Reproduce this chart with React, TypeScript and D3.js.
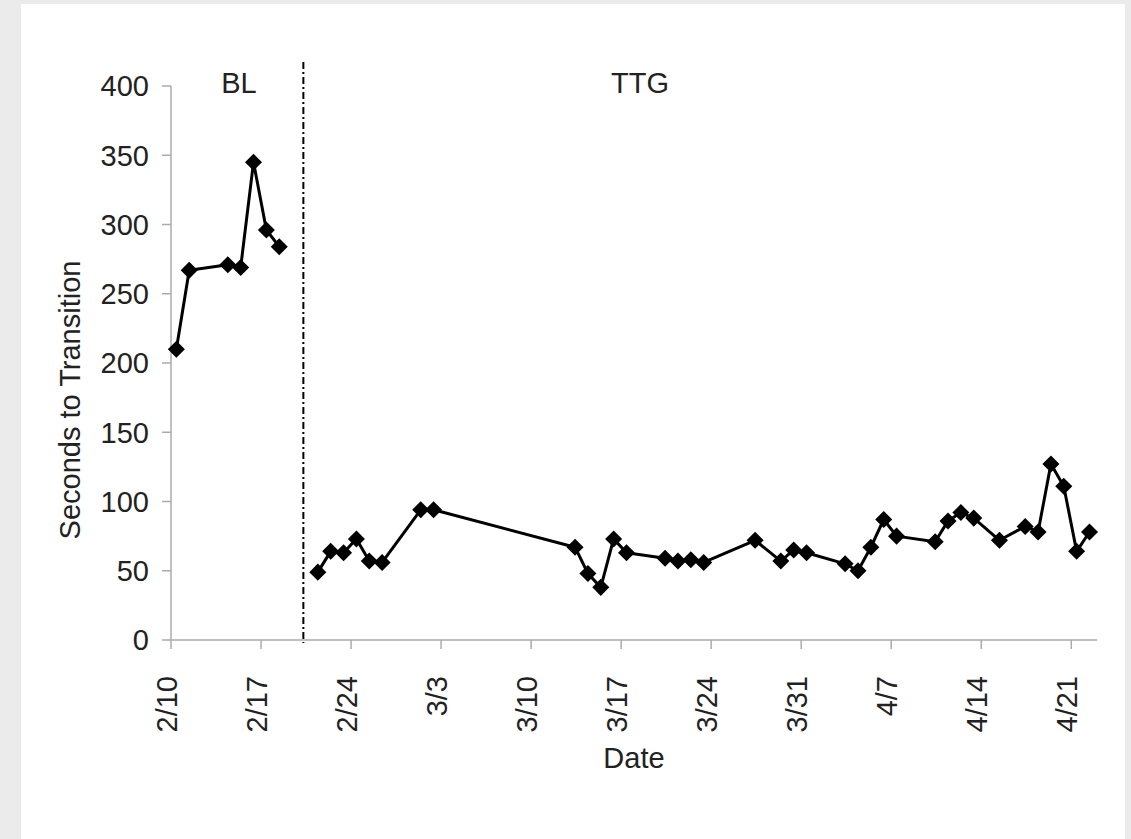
import { useMemo } from "react";
import * as d3 from "d3";

const YEAR = 2017;

// baseline phase
const blDates = ["2/10", "2/11", "2/14", "2/15", "2/16", "2/17", "2/18"];
const blValues = [210, 267, 271, 269, 345, 296, 284];

// treatment phase
const ttgDates = [
  "2/21", "2/22", "2/23", "2/24", "2/25", "2/26", "3/1", "3/2",
  "3/13", "3/14", "3/15", "3/16", "3/17", "3/20", "3/21", "3/22", "3/23",
  "3/27", "3/29", "3/30", "3/31", "4/3", "4/4", "4/5", "4/6", "4/7",
  "4/10", "4/11", "4/12", "4/13", "4/15", "4/17", "4/18", "4/19", "4/20",
  "4/21", "4/22",
];
const ttgValues = [
  49, 64, 63, 73, 57, 56, 94, 94,
  67, 48, 38, 73, 63, 59, 57, 58, 56,
  72, 57, 65, 63, 55, 50, 67, 87, 75,
  71, 86, 92, 88, 72, 82, 78, 127, 111,
  64, 78,
];

const xTickLabels = ["2/10", "2/17", "2/24", "3/3", "3/10", "3/17", "3/24", "3/31", "4/7", "4/14", "4/21"];
const yTicks = [0, 50, 100, 150, 200, 250, 300, 350, 400];
const phaseLabels = ["BL", "TTG"];
const phaseChange = "2/20";

const W = 1131;
const H = 839;
const FONT = "'Liberation Sans', Arial, Helvetica, sans-serif";
const FS = 29;
const TEXT = "#222";
const AXIS = "#ababab";

function toDate(s: string, hours = 0) {
  const [m, d] = s.split("/").map(Number);
  return new Date(YEAR, m - 1, d, hours);
}

export default function App() {
  const x = useMemo(
    () => d3.scaleTime().domain([toDate("2/10"), toDate("4/23")]).range([171, 1097]),
    []
  );
  const y = useMemo(() => d3.scaleLinear().domain([0, 400]).range([640, 86]), []);

  const bl = blDates.map((d, i) => ({ date: toDate(d, 10.5), value: blValues[i] }));
  const ttg = ttgDates.map((d, i) => ({ date: toDate(d, 10.5), value: ttgValues[i] }));

  const line = d3
    .line<{ date: Date; value: number }>()
    .x((d) => x(d.date))
    .y((d) => y(d.value));

  const diamond = d3.symbol(d3.symbolSquare, 145)() as string;
  const phaseX = x(toDate(phaseChange, 7));
  const [y0, y1] = y.range();
  const [xa, xb] = x.range();

  return (
    <svg
      width={W}
      height={H}
      style={{ position: "absolute", left: 0, top: 0, display: "block" }}
      fontFamily={FONT}
    >
      <rect x={0} y={0} width={W} height={H} fill="#ebebeb" />
      <rect x={21} y={4} width={1104} height={H - 4} fill="#ffffff" />

      {/* y axis */}
      <line x1={xa} x2={xa} y1={y1} y2={y0} stroke={AXIS} strokeWidth={1.5} />
      {yTicks.map((t) => (
        <g key={t} transform={`translate(0,${y(t)})`}>
          <line x1={xa - 9} x2={xa} stroke={AXIS} strokeWidth={1.5} />
          <text x={149} dy="0.36em" textAnchor="end" fontSize={FS} fill={TEXT}>
            {t}
          </text>
        </g>
      ))}

      {/* x axis */}
      <line x1={xa} x2={xb} y1={y0} y2={y0} stroke={AXIS} strokeWidth={1.5} />
      {xTickLabels.map((t) => {
        const px = x(toDate(t));
        return (
          <g key={t}>
            <line x1={px} x2={px} y1={y0} y2={y0 + 9} stroke={AXIS} strokeWidth={1.5} />
            <text
              transform={`translate(${px},676) rotate(-90)`}
              dy="0.2em"
              textAnchor="end"
              fontSize={FS}
              fill={TEXT}
            >
              {t}
            </text>
          </g>
        );
      })}

      {/* axis titles */}
      <text x={(xa + xb) / 2} y={768} textAnchor="middle" fontSize={FS} fill={TEXT}>
        Date
      </text>
      <text transform="translate(80,400) rotate(-90)" textAnchor="middle" fontSize={FS} fill={TEXT}>
        Seconds to Transition
      </text>

      {/* phase change line */}
      <line
        x1={phaseX}
        x2={phaseX}
        y1={62}
        y2={y0 + 3}
        stroke="#000"
        strokeWidth={2}
        strokeDasharray="7,3,2,3"
      />
      <text x={239} y={93} textAnchor="middle" fontSize={FS} fill={TEXT}>
        {phaseLabels[0]}
      </text>
      <text x={640} y={93} textAnchor="middle" fontSize={FS} fill={TEXT}>
        {phaseLabels[1]}
      </text>

      {/* series */}
      {[bl, ttg].map((s, k) => (
        <g key={k}>
          <path d={line(s) ?? ""} fill="none" stroke="#000" strokeWidth={3} strokeLinejoin="round" />
          {s.map((p, i) => (
            <path
              key={i}
              d={diamond}
              transform={`translate(${x(p.date)},${y(p.value)}) rotate(45)`}
              fill="#000"
            />
          ))}
        </g>
      ))}
    </svg>
  );
}
